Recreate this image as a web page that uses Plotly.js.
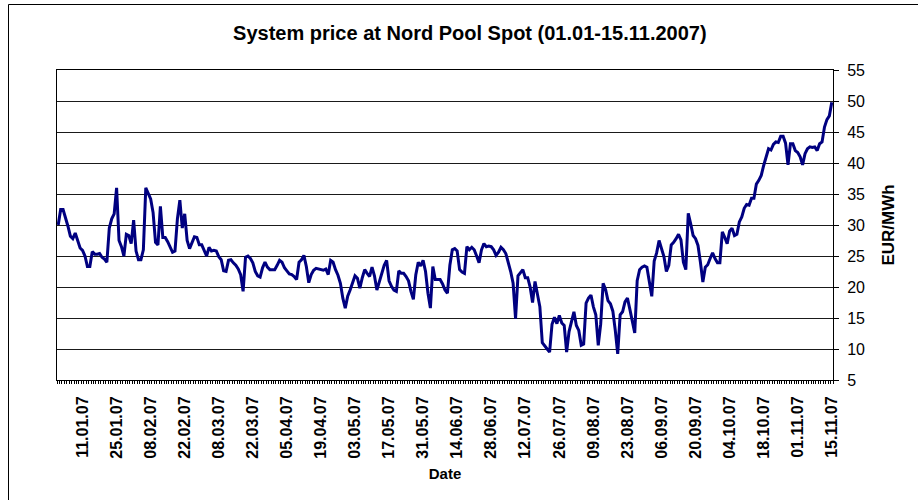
<!DOCTYPE html>
<html><head><meta charset="utf-8">
<script src="https://cdn.plot.ly/plotly-3.0.1.min.js"></script>
<style>html,body{margin:0;padding:0;background:#fff;overflow:hidden}#chart{width:918px;height:500px}</style>
</head><body><div id="chart"></div>
<script>
// Daily system price, EUR/MWh, 01.01.2007 - 15.11.2007
const firstDay = [2007, 0, 1];
const prices = [
30.0,32.5,32.5,31.3,29.8,28.2,27.8,28.7,27.3,26.3,
25.9,25.0,23.3,23.3,25.7,25.3,25.3,25.4,24.8,24.5,
24.0,29.5,31.0,31.8,36.0,27.5,26.5,25.0,28.5,28.3,
27.0,30.8,25.8,24.4,24.4,26.0,36.0,35.2,34.2,32.0,
27.2,26.8,33.0,28.0,28.0,27.3,26.3,25.6,25.8,31.0,
34.0,29.5,31.8,27.5,26.2,27.3,28.1,28.0,26.8,26.8,
25.8,25.0,26.4,25.8,25.9,25.8,24.9,24.4,22.6,22.5,
24.3,24.4,23.9,23.5,22.9,22.0,19.3,24.8,25.0,24.6,
23.9,22.5,21.8,21.6,23.1,24.0,23.2,22.8,22.8,22.8,
23.5,24.3,24.0,23.1,22.6,22.1,22.0,21.7,21.2,24.0,
24.4,25.1,23.3,20.7,22.0,22.7,23.0,22.9,22.9,22.7,
22.9,22.0,24.3,24.0,22.8,21.9,20.6,18.2,16.6,18.5,
19.5,20.8,21.8,21.4,19.8,21.5,22.8,22.2,21.7,23.2,
21.8,19.5,20.8,22.2,23.5,24.3,21.0,20.1,19.5,19.3,
22.6,22.2,22.2,21.7,21.0,19.3,18.0,22.0,24.0,23.4,
24.3,22.5,19.0,16.6,23.3,21.2,21.2,21.2,20.5,19.5,
19.0,23.5,26.0,26.2,25.8,22.8,22.4,22.2,26.5,26.0,
26.4,26.0,25.0,23.9,26.0,27.0,26.5,26.6,26.5,26.0,
25.1,25.6,26.4,26.0,25.4,24.0,22.5,20.6,14.9,21.8,
22.3,22.8,21.5,21.5,20.0,17.5,20.9,18.5,16.8,11.0,
10.4,10.0,9.5,14.0,15.1,14.1,15.4,14.2,13.8,9.5,
12.8,14.3,16.0,13.8,13.0,10.6,10.8,17.4,18.2,18.7,
16.8,15.5,10.6,14.0,20.6,19.6,17.8,17.3,16.1,13.0,
9.2,15.5,16.0,17.6,18.2,16.4,14.5,12.6,21.0,22.8,
23.2,23.4,23.2,21.0,18.5,24.2,25.5,27.5,26.0,24.9,
22.5,23.5,26.8,27.2,27.8,28.5,27.6,24.0,22.8,31.9,
30.2,28.3,27.8,26.7,24.0,20.8,23.2,23.6,24.6,25.5,
24.6,23.9,23.9,28.9,28.0,27.0,29.0,29.5,28.3,28.5,
30.5,31.3,32.7,33.3,33.2,34.3,34.3,36.6,37.2,38.0,
39.6,41.0,42.3,42.1,43.0,43.4,43.3,44.3,44.3,43.2,
39.7,43.1,43.1,42.0,41.7,41.0,39.7,41.5,42.3,42.6,
42.5,42.6,42.0,43.1,43.4,45.8,47.0,47.6,49.8
];
const dates = prices.map((_, i) =>
  new Date(Date.UTC(firstDay[0], firstDay[1], firstDay[2] + i)).toISOString().slice(0, 10));
const yTickVals = [5,10,15,20,25,30,35,40,45,50,55];
const firstLabelDate = '2007-01-11';
const labelStepDays = 14;

const DAY = 86400000;
const FONT = 'Liberation Sans, Arial, sans-serif';

const trace = {
  x: dates, y: prices, type: 'scatter', mode: 'lines',
  line: {color: '#000080', width: 3},
  hoverinfo: 'x+y'
};

const layout = {
  width: 918, height: 500,
  paper_bgcolor: '#fff', plot_bgcolor: '#fff',
  margin: {l: 57, r: 85, t: 70, b: 120, autoexpand: false},
  showlegend: false,
  font: {family: FONT, color: '#000'},
  title: {
    text: 'System price at Nord Pool Spot (01.01-15.11.2007)',
    font: {family: FONT, size: 20, weight: 'bold', color: '#000'},
    x: 0.532, xanchor: 'center', xref: 'paper',
    y: 1 - 33/500, yanchor: 'middle', yref: 'container'
  },
  xaxis: {
    type: 'date',
    range: ['2006-12-31 12:00', '2007-11-15 12:00'],
    tick0: firstLabelDate, dtick: labelStepDays * DAY,
    tickformat: '%d.%m.%y', tickangle: -90,
    tickfont: {family: FONT, size: 16, weight: 'bold', color: '#000'},
    ticks: '', ticklabelstandoff: 9,
    minor: {ticks: 'outside', ticklen: 3, tickcolor: '#000', tickwidth: 1,
            tick0: '2006-12-31 12:00', dtick: DAY, showgrid: false},
    showgrid: false, zeroline: false,
    showline: true, linecolor: '#000', linewidth: 1, mirror: true,
    title: {text: 'Date', font: {family: FONT, size: 15, weight: 'bold', color: '#000'}, standoff: 10},
    automargin: false, fixedrange: true
  },
  yaxis: {
    side: 'right', range: [5, 55], tickvals: yTickVals,
    ticks: 'outside', ticklen: 5, tickcolor: '#000', tickwidth: 1,
    tickfont: {family: FONT, size: 16, color: '#000'},
    ticklabelstandoff: 5,
    showgrid: true, gridcolor: '#1a1a1a', gridwidth: 1,
    zeroline: false, showline: true, linecolor: '#000', linewidth: 1, mirror: true,
    title: {text: 'EUR/MWh', font: {family: FONT, size: 17, weight: 'bold', color: '#000'}, standoff: 18},
    automargin: false, fixedrange: true
  },
  shapes: [{
    type: 'rect', xref: 'paper', yref: 'paper',
    x0: (8.5 - 57) / 776, x1: 2, y0: -2, y1: (380 - 4.5) / 310,
    line: {color: '#000', width: 1}, fillcolor: 'rgba(0,0,0,0)', layer: 'below'
  }]
};

Plotly.newPlot('chart', [trace], layout, {displayModeBar: false, staticPlot: true});
</script>
</body></html>
